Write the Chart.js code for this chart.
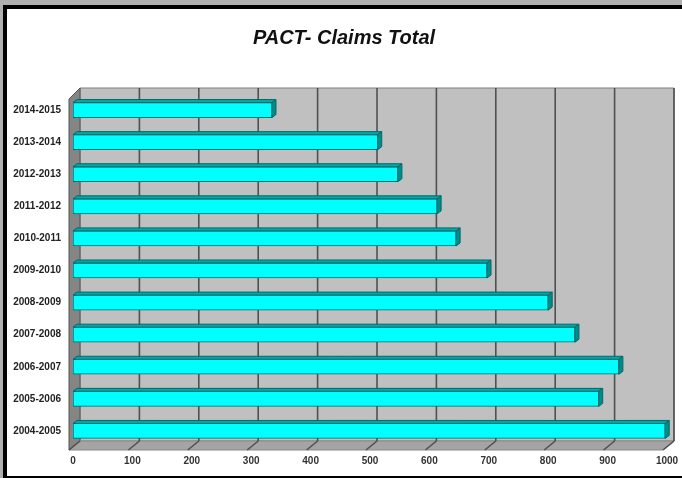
<!DOCTYPE html>
<html>
<head>
<meta charset="utf-8">
<script src="https://cdn.jsdelivr.net/npm/chart.js@4/dist/chart.umd.min.js"></script>
<style>
  html, body { margin: 0; padding: 0; background: #b0b0b0; }
  canvas { display: block; }
</style>
</head>
<body>
<canvas id="chart" width="682" height="478"></canvas>
<script>
// data
const seasons = [
  "2014-2015", "2013-2014", "2012-2013", "2011-2012", "2010-2011", "2009-2010",
  "2008-2009", "2007-2008", "2006-2007", "2005-2006", "2004-2005",
];
const claims = [335, 513, 547, 613, 645, 697, 800, 845, 919, 885, 997];
const xMin = 0;
const xMax = 1000;
const xStep = 100;

// 3d look: offsets from the bar plane to the back wall / front edge
const BACK = { x: 7, y: -6 };
const FRONT = { x: -4, y: 3 };
const CAP = { x: 4, y: -3 };

const poly = (ctx, pts, fill, stroke) => {
  ctx.beginPath();
  ctx.moveTo(pts[0][0], pts[0][1]);
  for (let i = 1; i < pts.length; i++) ctx.lineTo(pts[i][0], pts[i][1]);
  ctx.closePath();
  if (fill) { ctx.fillStyle = fill; ctx.fill(); }
  if (stroke) { ctx.strokeStyle = stroke; ctx.lineWidth = 1; ctx.stroke(); }
};

const frame3d = {
  id: "frame3d",
  beforeDraw(chart) {
    const { ctx, width, height } = chart;
    ctx.save();
    ctx.fillStyle = "#b0b0b0";
    ctx.fillRect(0, 0, width, height);
    ctx.fillStyle = "#000";
    ctx.fillRect(3, 5, width - 3, height - 5);
    ctx.fillStyle = "#fff";
    ctx.fillRect(7, 9, width - 7, height - 11);
    ctx.restore();
  },
  beforeDatasetsDraw(chart) {
    const { ctx, chartArea: ca, scales } = chart;
    const l = ca.left, r = ca.right, t = ca.top, b = ca.bottom;
    ctx.save();
    // back wall
    poly(ctx, [[l + BACK.x, t + BACK.y], [r + BACK.x, t + BACK.y], [r + BACK.x, b + BACK.y], [l + BACK.x, b + BACK.y]], "#c0c0c0", "#808080");
    // left side wall
    poly(ctx, [[l + FRONT.x, t + 5], [l + BACK.x, t + BACK.y], [l + BACK.x, b + BACK.y], [l + FRONT.x, b + FRONT.y]], "#858585", "#555");
    // floor
    poly(ctx, [[l + FRONT.x, b + FRONT.y], [l + BACK.x, b + BACK.y], [r + BACK.x, b + BACK.y], [r + FRONT.x, b + FRONT.y]], "#a4a4a4", "#8a8a8a");
    // gridlines on back wall and floor
    ctx.strokeStyle = "#505050";
    ctx.lineWidth = 1.6;
    scales.x.ticks.forEach((tk) => {
      const px = scales.x.getPixelForValue(tk.value);
      if (tk.value > xMin) {
        ctx.beginPath();
        ctx.moveTo(px + BACK.x, t + BACK.y);
        ctx.lineTo(px + BACK.x, b + BACK.y);
        ctx.stroke();
      }
      ctx.beginPath();
      ctx.moveTo(px + FRONT.x, b + FRONT.y);
      ctx.lineTo(px + BACK.x, b + BACK.y);
      ctx.stroke();
    });
    ctx.restore();
  },
  afterDatasetsDraw(chart) {
    const { ctx } = chart;
    const meta = chart.getDatasetMeta(0);
    ctx.save();
    meta.data.forEach((bar) => {
      const top = bar.y - bar.height / 2;
      const bot = bar.y + bar.height / 2;
      const x0 = bar.base, x1 = bar.x;
      poly(ctx, [[x0, top], [x1, top], [x1 + CAP.x, top + CAP.y], [x0 + CAP.x, top + CAP.y]], "#00a8a8", "#006a6a");
      poly(ctx, [[x1, top], [x1 + CAP.x, top + CAP.y], [x1 + CAP.x, bot + CAP.y], [x1, bot]], "#008c8c", "#006a6a");
    });
    ctx.restore();
  },
};

const labelFont = { family: "Arial, 'Liberation Sans'", size: 10, weight: "bold" };

new Chart(document.getElementById("chart"), {
  type: "bar",
  data: {
    labels: seasons,
    datasets: [{
      label: "Claims",
      data: claims,
      backgroundColor: "#00ffff",
      borderColor: "#007070",
      borderWidth: 1,
      borderSkipped: false,
      barThickness: 15,
      yAxisID: "y",
    }],
  },
  options: {
    indexAxis: "y",
    responsive: false,
    animation: false,
    layout: { padding: { left: 6, right: 0, top: 0, bottom: 0 } },
    plugins: {
      legend: { display: false },
      tooltip: { enabled: false },
      title: {
        display: true,
        text: "PACT- Claims Total",
        color: "#111",
        font: { family: "Arial, 'Liberation Sans'", size: 20, weight: "bold", style: "italic" },
        padding: { top: 26, bottom: 44 },
      },
    },
    scales: {
      x: {
        min: xMin,
        max: xMax,
        ticks: {
          stepSize: xStep,
          color: "#333",
          padding: 8,
          maxRotation: 0,
          autoSkip: false,
          font: labelFont,
          callback: (v) => String(v),
        },
        grid: { display: false, drawTicks: false },
        border: { display: false },
        afterFit: (scale) => {
          scale.height = 31;
          scale.paddingRight = 0;
          scale.paddingLeft = 0;
        },
      },
      y: {
        ticks: { color: "#222", padding: 12, font: labelFont },
        grid: { display: false, drawTicks: false },
        border: { display: false },
        afterFit: (scale) => { scale.width = 67; },
      },
      // empty strip on the right so the plot ends where the picture's does
      yRight: {
        position: "right",
        ticks: { display: false },
        grid: { display: false, drawTicks: false },
        border: { display: false },
        afterFit: (scale) => { scale.width = 15; },
      },
    },
  },
  plugins: [frame3d],
});
</script>
</body>
</html>
